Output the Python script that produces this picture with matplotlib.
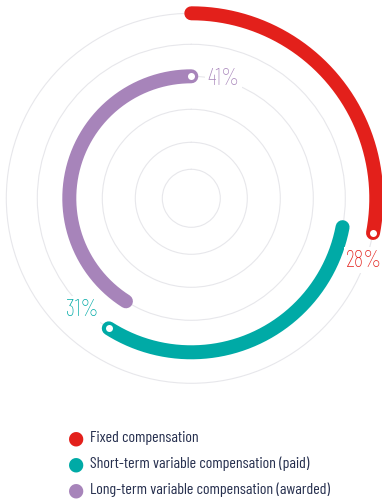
import matplotlib
matplotlib.use("Agg")
import matplotlib.pyplot as plt
import numpy as np

plt.rcParams['font.family'] = ['Barlow Condensed', 'DejaVu Sans']

## data
categories = ['Fixed compensation',
              'Short-term variable compensation (paid)',
              'Long-term variable compensation (awarded)']
shares = [28, 31, 41]          # percent of total
colors = ['#e3201b', '#00aaa6', '#a784ba']

## layout (pixels, figure is 382x502 at dpi 100)
W, H = 382, 502
cx, cy = 191.3, 502 - 199.3    # centre of the rings
rmax = 190
ring_r = [185, 154, 122]       # radius of each arc
grid_r = [29, 56, 89, 122, 154, 185]
lab_off = [(-9, -27), (-27, 19), (32, -2)]   # label offset from arc end, px
px = 72 / 100                  # px -> pt

fig = plt.figure(figsize=(W / 100, H / 100), dpi=100)
ax = fig.add_axes([(cx - rmax) / W, (cy - rmax) / H, 2 * rmax / W, 2 * rmax / H],
                  projection='polar')
ax.set_theta_zero_location('N')
ax.set_theta_direction(-1)
ax.set_ylim(0, rmax)
ax.set_yticks(grid_r)
ax.set_yticklabels([])
ax.set_xticks([])
ax.spines['polar'].set_visible(False)
ax.grid(True, color='#e7e7eb', lw=0.8)
ax.set_facecolor('none')

start = 0
for i in range(len(shares)):
    end = start + shares[i]
    th = np.linspace(start, end, 300) / 100 * 2 * np.pi
    ax.plot(th, np.full_like(th, ring_r[i]), color=colors[i], lw=14 * px,
            solid_capstyle='round', clip_on=False, zorder=3)
    # white dot at the end of each arc
    ax.plot(th[-1], ring_r[i], 'o', ms=7 * px, mfc='white', mec='none',
            clip_on=False, zorder=4)
    ax.annotate("%d%%" % shares[i], xy=(th[-1], ring_r[i]),
                xytext=(lab_off[i][0] * px, lab_off[i][1] * px),
                textcoords='offset points', ha='center', va='center',
                fontsize=16.5, weight='light', color=colors[i], zorder=5,
                bbox=dict(boxstyle='square,pad=0.1', fc='white', ec='none'))
    start = end

# legend
for i in range(len(categories)):
    y = 1 - (438 + 26 * i) / H
    fig.text(76 / W, y, u'\u25cf', color=colors[i], fontsize=13.5,
             family='DejaVu Sans', ha='center', va='center')
    fig.text(90 / W, y, categories[i], color='#27304f', fontsize=11.5,
             ha='left', va='center')

plt.savefig("out.png", dpi=100)
